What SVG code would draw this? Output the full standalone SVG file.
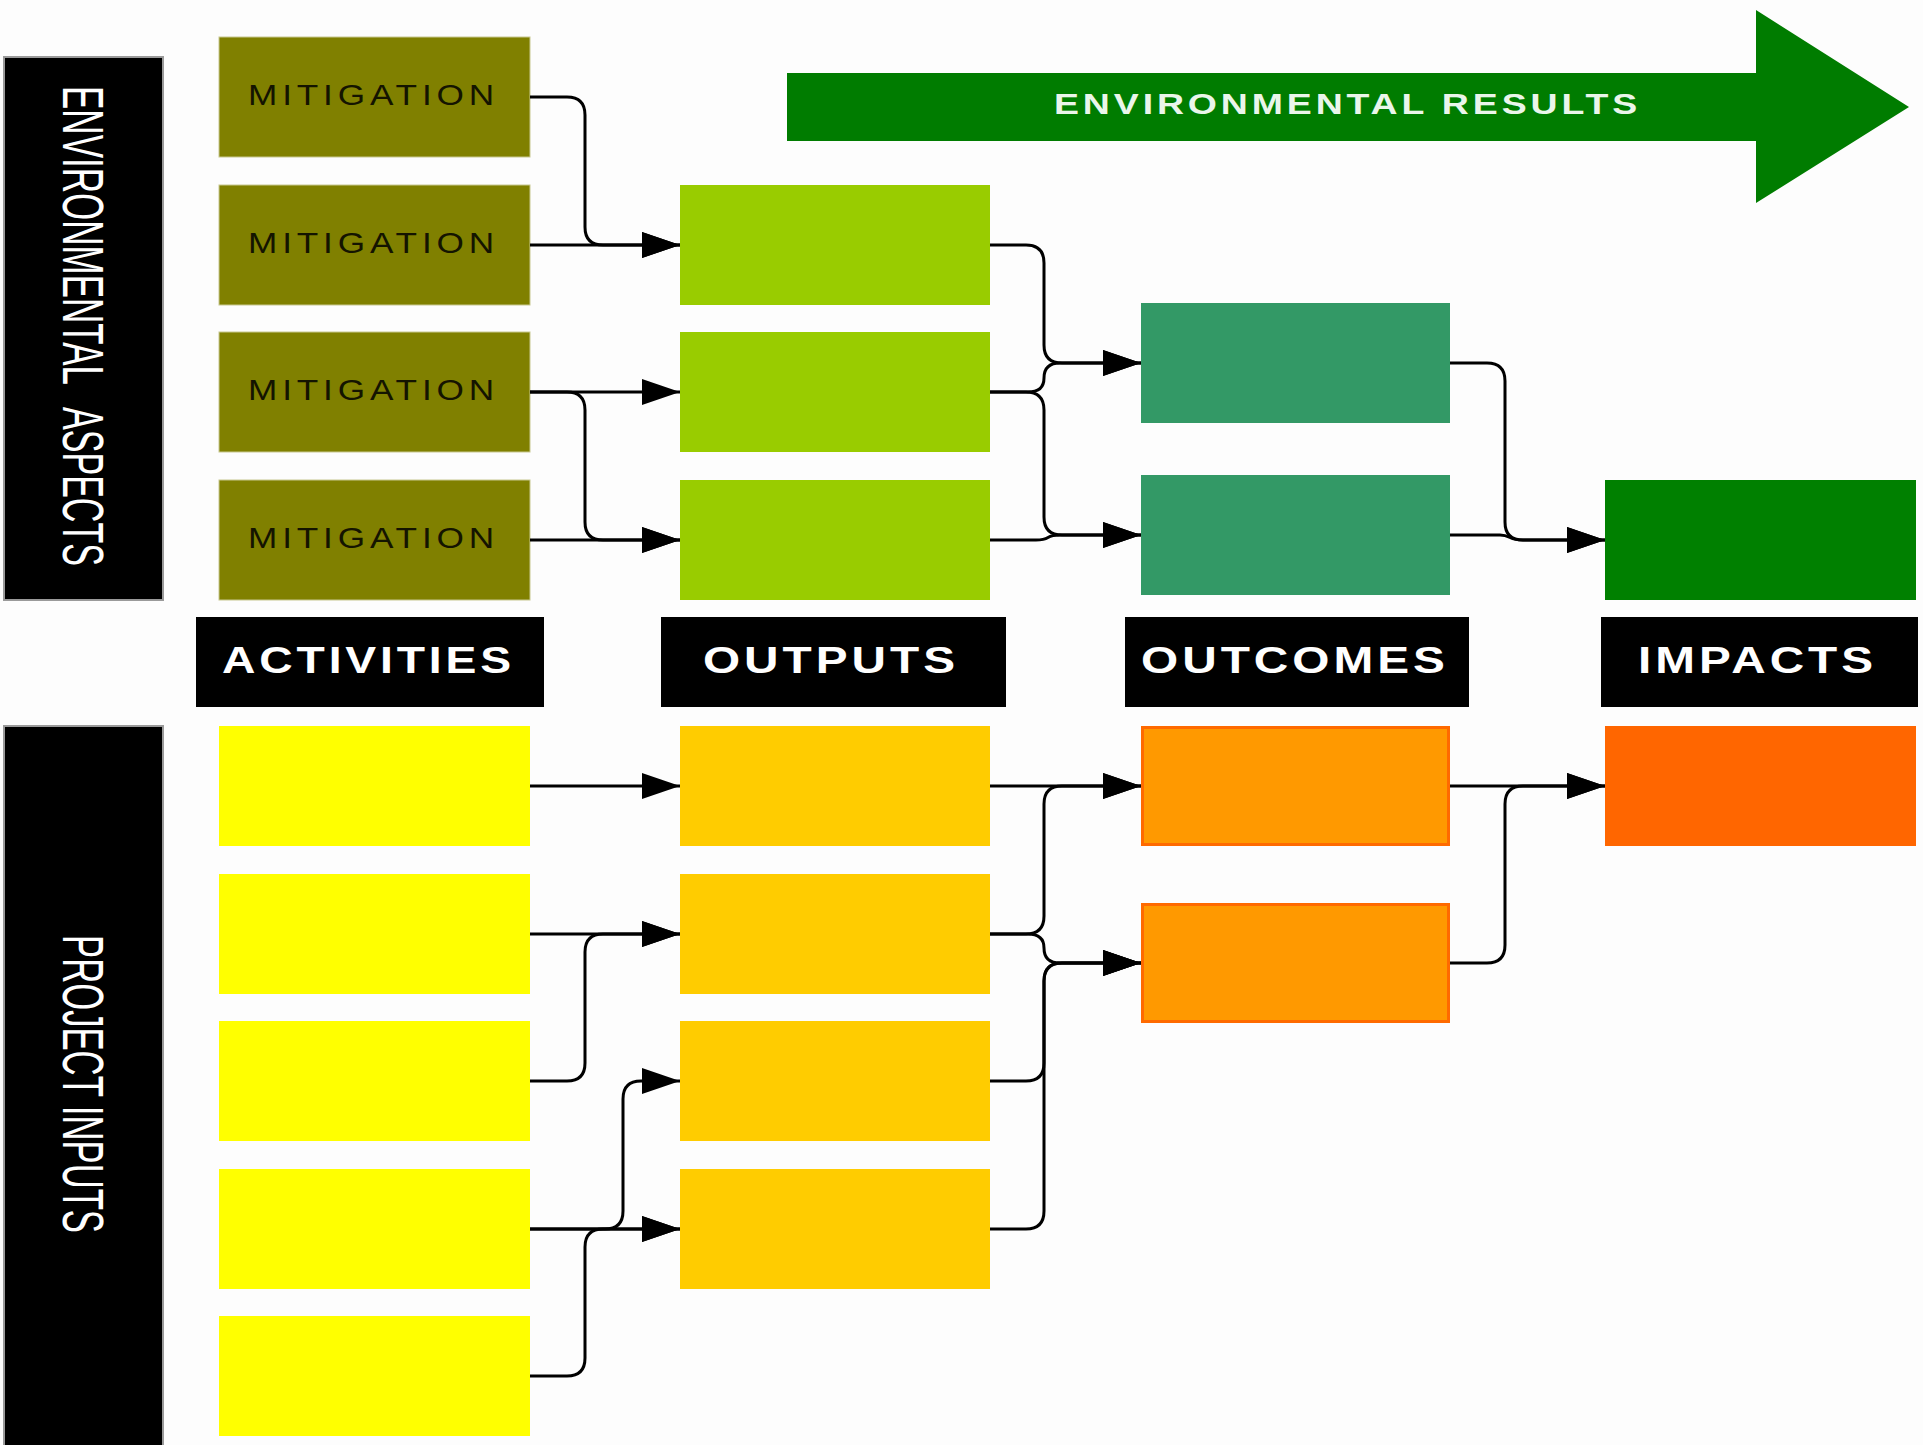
<svg xmlns="http://www.w3.org/2000/svg" width="1923" height="1445" viewBox="0 0 1923 1445">
  <defs>
    <marker id="ah" markerUnits="userSpaceOnUse" markerWidth="40" markerHeight="28" refX="38" refY="13" orient="auto">
      <path d="M0,0 L38,13 L0,26 Z" fill="#000"/>
    </marker>
    <style>
      .side { fill: #000; stroke: #9a9a9a; stroke-width: 2; }
      .sidetxt { font-family: "Liberation Sans", Arial, sans-serif; font-size: 57px; fill: #fff; }
      .lbl { fill: #000; }
      .lbltxt { font-family: "Liberation Sans", Arial, sans-serif; font-size: 36px; font-weight: bold; fill: #fff; letter-spacing: 3px; }
      .mit { fill: #808000; stroke: #c8c890; stroke-width: 1; }
      .mittxt { font-family: "Liberation Sans", Arial, sans-serif; font-size: 29px; fill: #141400; letter-spacing: 4px; }
      .outG { fill: #99cc00; }
      .ocG { fill: #339966; }
      .impG { fill: #008000; }
      .act { fill: #ffff00; }
      .outY { fill: #ffcc00; }
      .ocO { fill: #ff9900; stroke: #ff6a00; stroke-width: 3; }
      .impO { fill: #ff6600; }
      .conn path { fill: none; stroke: #000; stroke-width: 3; marker-end: url(#ah); }
    </style>
  </defs>
  <rect x="0" y="0" width="1923" height="1445" fill="#fdfdfd"/>

  <!-- big arrow -->
  <g id="env-results">
    <polygon points="787,73 1756,73 1756,10 1909,107 1756,203 1756,141 787,141" fill="#007c00"/>
    <text x="1054" y="114" font-family="Liberation Sans, Arial, sans-serif" font-size="29" font-weight="bold" letter-spacing="3" fill="#eaf6ea" textLength="587" lengthAdjust="spacingAndGlyphs">ENVIRONMENTAL RESULTS</text>
  </g>

  <!-- side bars -->
  <g id="env-aspects">
    <rect class="side" x="4" y="57" width="159" height="543"/>
    <text class="sidetxt" transform="translate(63,86) rotate(90)" x="0" y="0" textLength="299" lengthAdjust="spacingAndGlyphs">ENVIRONMENTAL</text>
    <text class="sidetxt" transform="translate(63,407) rotate(90)" x="0" y="0" textLength="159" lengthAdjust="spacingAndGlyphs">ASPECTS</text>
  </g>
  <g id="project-inputs">
    <rect class="side" x="4" y="726" width="159" height="725"/>
    <text class="sidetxt" transform="translate(63,935) rotate(90)" x="0" y="0" textLength="298" lengthAdjust="spacingAndGlyphs">PROJECT INPUTS</text>
  </g>

  <!-- column labels -->
  <g id="lbl-activities">
    <rect class="lbl" x="196" y="617" width="348" height="90"/>
    <text class="lbltxt" x="222" y="673" textLength="293" lengthAdjust="spacingAndGlyphs">ACTIVITIES</text>
  </g>
  <g id="lbl-outputs">
    <rect class="lbl" x="661" y="617" width="345" height="90"/>
    <text class="lbltxt" x="703" y="673" textLength="256" lengthAdjust="spacingAndGlyphs">OUTPUTS</text>
  </g>
  <g id="lbl-outcomes">
    <rect class="lbl" x="1125" y="617" width="344" height="90"/>
    <text class="lbltxt" x="1141" y="673" textLength="308" lengthAdjust="spacingAndGlyphs">OUTCOMES</text>
  </g>
  <g id="lbl-impacts">
    <rect class="lbl" x="1601" y="617" width="317" height="90"/>
    <text class="lbltxt" x="1638" y="673" textLength="239" lengthAdjust="spacingAndGlyphs">IMPACTS</text>
  </g>

  <!-- upper: mitigation -->
  <g id="mit1"><rect class="mit" x="219" y="37" width="311" height="120"/><text class="mittxt" x="248" y="105" textLength="251" lengthAdjust="spacingAndGlyphs">MITIGATION</text></g>
  <g id="mit2"><rect class="mit" x="219" y="185" width="311" height="120"/><text class="mittxt" x="248" y="253" textLength="251" lengthAdjust="spacingAndGlyphs">MITIGATION</text></g>
  <g id="mit3"><rect class="mit" x="219" y="332" width="311" height="120"/><text class="mittxt" x="248" y="400" textLength="251" lengthAdjust="spacingAndGlyphs">MITIGATION</text></g>
  <g id="mit4"><rect class="mit" x="219" y="480" width="311" height="120"/><text class="mittxt" x="248" y="548" textLength="251" lengthAdjust="spacingAndGlyphs">MITIGATION</text></g>

  <!-- upper: outputs -->
  <g id="outG1"><rect class="outG" x="680" y="185" width="310" height="120"/></g>
  <g id="outG2"><rect class="outG" x="680" y="332" width="310" height="120"/></g>
  <g id="outG3"><rect class="outG" x="680" y="480" width="310" height="120"/></g>

  <!-- upper: outcomes -->
  <g id="ocG1"><rect class="ocG" x="1141" y="303" width="309" height="120"/></g>
  <g id="ocG2"><rect class="ocG" x="1141" y="475" width="309" height="120"/></g>

  <!-- upper: impact -->
  <g id="impG1"><rect class="impG" x="1605" y="480" width="311" height="120"/></g>

  <!-- lower: activities -->
  <g id="act1"><rect class="act" x="219" y="726" width="311" height="120"/></g>
  <g id="act2"><rect class="act" x="219" y="874" width="311" height="120"/></g>
  <g id="act3"><rect class="act" x="219" y="1021" width="311" height="120"/></g>
  <g id="act4"><rect class="act" x="219" y="1169" width="311" height="120"/></g>
  <g id="act5"><rect class="act" x="219" y="1316" width="311" height="120"/></g>

  <!-- lower: outputs -->
  <g id="outY1"><rect class="outY" x="680" y="726" width="310" height="120"/></g>
  <g id="outY2"><rect class="outY" x="680" y="874" width="310" height="120"/></g>
  <g id="outY3"><rect class="outY" x="680" y="1021" width="310" height="120"/></g>
  <g id="outY4"><rect class="outY" x="680" y="1169" width="310" height="120"/></g>

  <!-- lower: outcomes -->
  <g id="ocO1"><rect class="ocO" x="1142.5" y="727.5" width="306" height="117"/></g>
  <g id="ocO2"><rect class="ocO" x="1142.5" y="904.5" width="306" height="117"/></g>

  <!-- lower: impact -->
  <g id="impO1"><rect class="impO" x="1605" y="726" width="311" height="120"/></g>

  <!-- connectors -->
  <g id="connectors" class="conn">
    <path d="M530,97 H567 Q585,97 585,115 V227 Q585,245 603,245 H680"/>
    <path d="M530,245 H680"/>
    <path d="M530,392 H680"/>
    <path d="M530,392 H567 Q585,392 585,410 V522 Q585,540 603,540 H680"/>
    <path d="M530,540 H680"/>
    <path d="M990,245 H1026 Q1044,245 1044,263 V345 Q1044,363 1062,363 H1141"/>
    <path d="M990,392 H1028 Q1044,392 1044,378 Q1044,363 1060,363 H1141"/>
    <path d="M990,392 H1026 Q1044,392 1044,410 V517 Q1044,535 1062,535 H1141"/>
    <path d="M990,540 H1036 Q1044,540 1048,537.5 Q1052,535 1060,535 H1141"/>
    <path d="M1450,363 H1487 Q1505,363 1505,381 V522 Q1505,540 1523,540 H1605"/>
    <path d="M1450,535 H1500 Q1505,535 1510,537.5 Q1515,540 1523,540 H1605"/>

    <path d="M530,786 H680"/>
    <path d="M530,934 H680"/>
    <path d="M530,1081 H567 Q585,1081 585,1063 V952 Q585,934 603,934 H680"/>
    <path d="M530,1229 H680"/>
    <path d="M530,1229 H605 Q623,1229 623,1211 V1099 Q623,1081 641,1081 H680"/>
    <path d="M530,1376 H567 Q585,1376 585,1358 V1247 Q585,1229 603,1229 H680"/>
    <path d="M990,786 H1141"/>
    <path d="M990,934 H1026 Q1044,934 1044,916 V804 Q1044,786 1062,786 H1141"/>
    <path d="M990,934 H1028 Q1044,934 1044,948 Q1044,963 1060,963 H1141"/>
    <path d="M990,1081 H1026 Q1044,1081 1044,1063 V981 Q1044,963 1062,963 H1141"/>
    <path d="M990,1229 H1026 Q1044,1229 1044,1211 V981 Q1044,963 1062,963 H1141"/>
    <path d="M1450,786 H1605"/>
    <path d="M1450,963 H1487 Q1505,963 1505,945 V804 Q1505,786 1523,786 H1605"/>
  </g>
</svg>
